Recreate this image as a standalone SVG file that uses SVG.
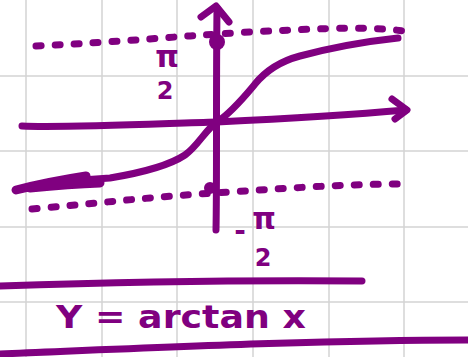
<svg xmlns="http://www.w3.org/2000/svg" width="468" height="357" viewBox="0 0 468 357">
<style>
.grid{stroke:#d4d4d4;stroke-width:1.5;fill:none}
.ink{stroke:#800080;stroke-width:7;fill:none;stroke-linecap:round;stroke-linejoin:round}
.dot{stroke:#800080;stroke-width:7;fill:none;stroke-linecap:round;stroke-dasharray:5 14}
.lbl{fill:#800080;font-family:"DejaVu Sans",sans-serif;font-weight:bold}
</style>
<rect width="468" height="357" fill="#ffffff"/>
<g id="grid">
<path class="grid" d="M26,0V357M102,0V357M177,0V357M253,0V357M329,0V357M404,0V357M0,76H468M0,151H468M0,227H468M0,302H468"/>
</g>
<g id="asymptotes">
<path class="dot" d="M36,46 C120,42 180,36 250,32 C330,28 370,26 412,32"/>
<path class="dot" d="M32,209 C100,203 160,196 230,192 C300,187 360,184 400,184"/>
</g>
<g id="axes">
<path class="ink" d="M22,126 C60,128 150,124 217,122 C300,118 360,114 406,110"/>
<path class="ink" d="M392,99 L407,110 L395,119"/>
<path class="ink" d="M216,230 C217,180 216,100 217,8"/>
<path class="ink" d="M201,17 L216,6 L229,22"/>
<circle cx="217" cy="42" r="8" fill="#800080"/>
<circle cx="210" cy="188" r="6" fill="#800080"/>
</g>
<g id="curve">
<path class="ink" d="M398,38 C370,41 330,48 300,56 C285,60 268,68 255,84 C245,96 232,112 217,122 C206,129 198,146 185,155 C170,165 140,173 110,178 L82,180"/>
<path class="ink" style="stroke-width:9" d="M16,190 C40,184 60,180 86,176 M30,188 C50,186 70,184 100,183"/>
</g>
<g id="labels">
<text class="lbl" x="167" y="67" font-size="30" text-anchor="middle">π</text>
<text class="lbl" x="165" y="99" font-size="24" text-anchor="middle">2</text>
<text class="lbl" x="240" y="240" font-size="28" text-anchor="middle">-</text>
<text class="lbl" x="264" y="229" font-size="30" text-anchor="middle">π</text>
<text class="lbl" x="263" y="266" font-size="24" text-anchor="middle">2</text>
</g>
<g id="separators">
<path class="ink" d="M0,286 C120,282 250,280 362,281"/>
<path class="ink" d="M0,354 C150,348 320,340 467,340"/>
</g>
<g id="title">
<text class="lbl" x="56" y="328" font-size="32" textLength="250" lengthAdjust="spacingAndGlyphs">Y = arctan x</text>
</g>
</svg>
